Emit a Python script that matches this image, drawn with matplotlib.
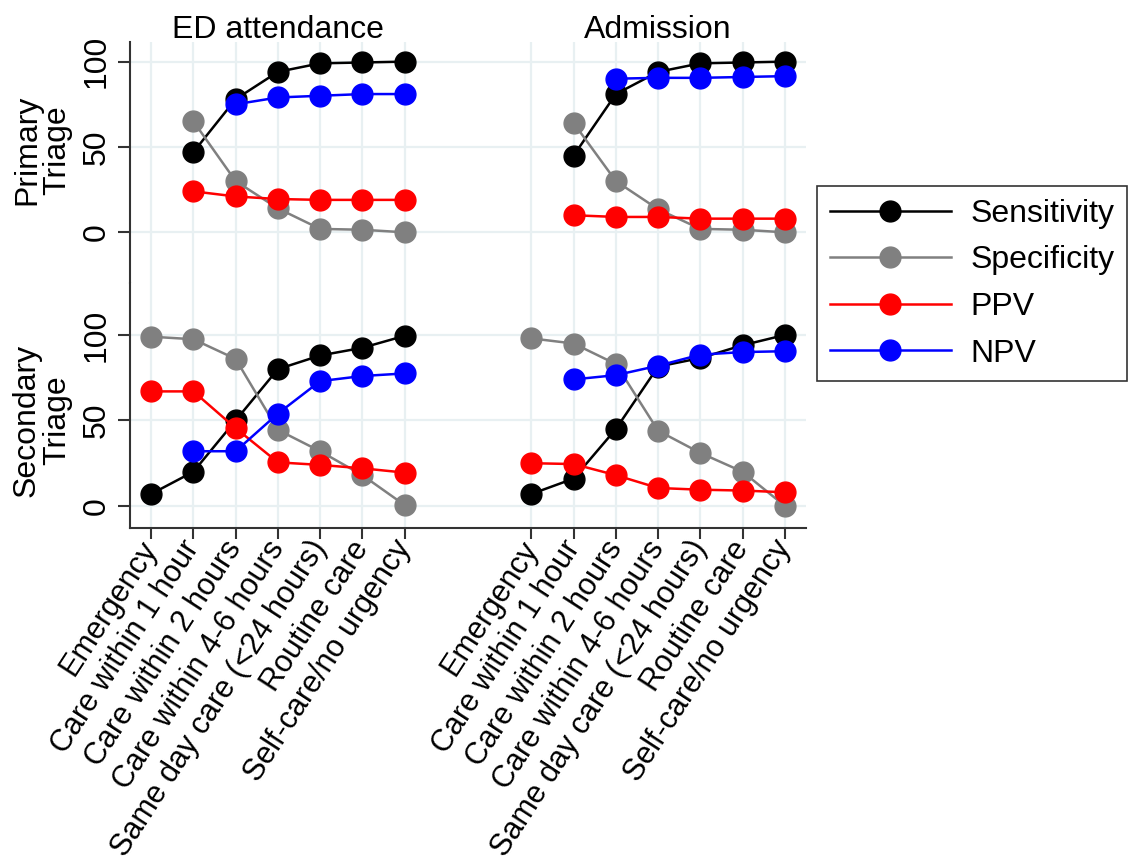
import numpy as np
import matplotlib
matplotlib.use("Agg")
import matplotlib.pyplot as plt
from matplotlib.transforms import blended_transform_factory

plt.rcParams['font.family'] = ['Liberation Sans', 'DejaVu Sans']

nan = np.nan

# Triage levels (x categories), repeated for each outcome group
categories = ["Emergency", "Care within 1 hour", "Care within 2 hours",
              "Care within 4-6 hours", "Same day care (<24 hours)",
              "Routine care", "Self-care/no urgency"]
groups = ["ED attendance", "Admission"]
group_start = [1, 10]  # x position of first category for each group

# Primary triage
ed_p_sens = [nan, 47, 78, 94, 99, 99.5, 100]
ed_p_spec = [nan, 65, 30, 14, 2, 1.5, 0]
ed_p_ppv = [nan, 24, 21, 19.5, 19, 19, 19]
ed_p_npv = [nan, nan, 75, 79, 80, 81, 81]

adm_p_sens = [nan, 45, 81, 94, 99, 99.5, 100]
adm_p_spec = [nan, 64, 30, 13.5, 2, 1.5, 0]
adm_p_ppv = [nan, 10, 9, 9, 8, 8, 8]
adm_p_npv = [nan, nan, 90, 90.5, 90.5, 91, 91.5]

# Secondary triage
ed_s_sens = [7, 20, 50, 80, 88, 92.5, 99.5]
ed_s_spec = [99, 97.5, 86, 44.5, 32, 18, 0.5]
ed_s_ppv = [67, 67, 45.5, 25.5, 24, 22, 19.5]
ed_s_npv = [nan, 32, 32, 54, 73, 76, 77.5]

adm_s_sens = [7, 16, 45, 81.5, 86.5, 94, 100]
adm_s_spec = [98, 95, 83, 44, 31, 20, 0]
adm_s_ppv = [25, 24.5, 18, 10.5, 9.5, 9, 8]
adm_s_npv = [nan, 74, 76.5, 82, 88.5, 90, 90.5]

measures = ["Sensitivity", "Specificity", "PPV", "NPV"]
colors = ["black", "#808080", "#ff0000", "#0000ff"]

primary = [[ed_p_sens, ed_p_spec, ed_p_ppv, ed_p_npv],
           [adm_p_sens, adm_p_spec, adm_p_ppv, adm_p_npv]]
secondary = [[ed_s_sens, ed_s_spec, ed_s_ppv, ed_s_npv],
             [adm_s_sens, adm_s_spec, adm_s_ppv, adm_s_npv]]

FS = 23
grid_col = "#e8f0f2"

fig = plt.figure(figsize=(11.35, 8.67), dpi=100)
W, H = 1135, 867
left, right = 130 / W, 806 / W
ax_top = fig.add_axes([left, 1 - 283 / H, right - left, (283 - 42) / H])
ax_bot = fig.add_axes([left, 1 - 528 / H, right - left, (528 - 283) / H])

xpos = [np.arange(s, s + len(categories)) for s in group_start]
all_x = np.concatenate(xpos)

handles = []
for ax, panel in [(ax_top, primary), (ax_bot, secondary)]:
    for g, series in enumerate(panel):
        for vals, col, name in zip(series, colors, measures):
            h, = ax.plot(xpos[g], vals, color=col, lw=1.8, marker='o',
                         ms=15, mec=col, mfc=col, label=name)
            if ax is ax_top and g == 0:
                handles.append(h)
    ax.set_xlim(0.5, 16.5)
    ax.set_yticks([0, 50, 100])
    ax.set_xticks(all_x)
    ax.grid(True, color=grid_col, lw=1.6)
    ax.set_axisbelow(True)
    for s in ['top', 'right']:
        ax.spines[s].set_visible(False)
    ax.spines['left'].set_linewidth(1.5)
    ax.spines['left'].set_color("#333333")
    ax.tick_params(axis='y', labelsize=FS, length=9, width=1.5,
                   color="#333333", labelrotation=90, pad=4)
    for lab in ax.get_yticklabels():
        lab.set_va('center')

ax_top.set_ylim(-29.7, 111.5)
ax_bot.set_ylim(-12.9, 130.4)

ax_top.spines['bottom'].set_visible(False)
ax_top.tick_params(axis='x', length=0, labelbottom=False)

ax_bot.spines['bottom'].set_linewidth(1.5)
ax_bot.spines['bottom'].set_color("#333333")
ax_bot.tick_params(axis='x', length=8, width=1.5, color="#333333", pad=3)
ax_bot.set_xticklabels(categories * 2, fontsize=22, rotation=57,
                       ha='right', va='center', rotation_mode='anchor')

# Group titles above the top panel
trans = blended_transform_factory(ax_top.transData, ax_top.transAxes)
for g, name in enumerate(groups):
    ax_top.text(group_start[g] + 3, 1.017, name, transform=trans,
                ha='center', va='baseline', fontsize=FS)

fig.text(42 / W, 1 - 150 / H, "Primary\nTriage", rotation=90, ha='center',
         va='center', fontsize=FS, linespacing=1.0)
fig.text(42 / W, 1 - 420 / H, "Secondary\nTriage", rotation=90, ha='center',
         va='center', fontsize=FS, linespacing=1.0)

leg = fig.legend(handles=handles, loc='upper left',
                 bbox_to_anchor=(817 / W, 1 - 186 / H), fontsize=FS,
                 frameon=True, fancybox=False, edgecolor='black',
                 handlelength=3.8, handletextpad=0.6, labelspacing=0.52,
                 borderpad=0.4, borderaxespad=0)
leg.get_frame().set_linewidth(1.2)

fig.savefig("out.png", dpi=100)
